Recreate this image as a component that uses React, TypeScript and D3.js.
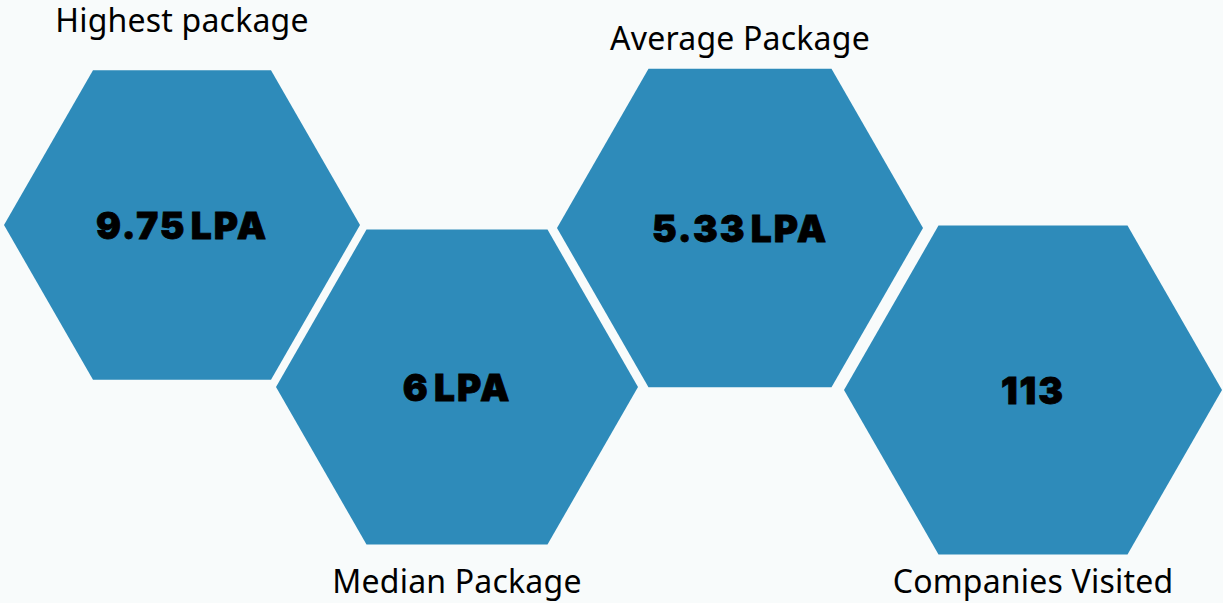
import React from "react";
import * as d3 from "d3";

const titles = ["Highest package", "Median Package", "Average Package", "Companies Visited"];
const values = ["9.75 LPA", "6 LPA", "5.33 LPA", "113"];

// layout (pixels)
const centersX = [182, 457, 740, 1033];
const centersY = [225, 387, 228, 390];
const radii = [178, 181, 183, 189];
const titleY = [32, 593, 50, 593];

const W = 1223;
const H = 603;
const HEX_COLOR = "#2e8bba";
const BG = "#f8fbfb";

function hexPath(cx: number, cy: number, r: number) {
  const pts: [number, number][] = d3.range(6).map((i) => {
    const a = (Math.PI / 3) * i;
    return [cx + r * Math.cos(a), cy + r * Math.sin(a) * 0.87 / 0.866];
  });
  return d3.line().curve(d3.curveLinearClosed)(pts) || "";
}

export default function App() {
  return (
    <svg
      width={W}
      height={H}
      viewBox={`0 0 ${W} ${H}`}
      style={{ position: "absolute", left: 0, top: 0, background: BG }}
    >
      <rect x={0} y={0} width={W} height={H} fill={BG} />
      {titles.map((t, i) => (
        <g key={t}>
          <path d={hexPath(centersX[i], centersY[i], radii[i])} fill={HEX_COLOR} />
          <text
            x={centersX[i]}
            y={centersY[i] + 14}
            textAnchor="middle"
            fontFamily="Inter, 'DejaVu Sans', sans-serif"
            fontWeight={900}
            fontSize={37}
            letterSpacing={2}
            wordSpacing={-5}
            fill="#000"
            stroke="#000"
            strokeWidth={0.8}
          >
            {values[i]}
          </text>
          <text
            x={centersX[i]}
            y={titleY[i]}
            textAnchor="middle"
            fontFamily="'Noto Sans', sans-serif"
            fontSize={32}
            letterSpacing={0.2}
            fill="#000"
          >
            {t}
          </text>
        </g>
      ))}
    </svg>
  );
}
